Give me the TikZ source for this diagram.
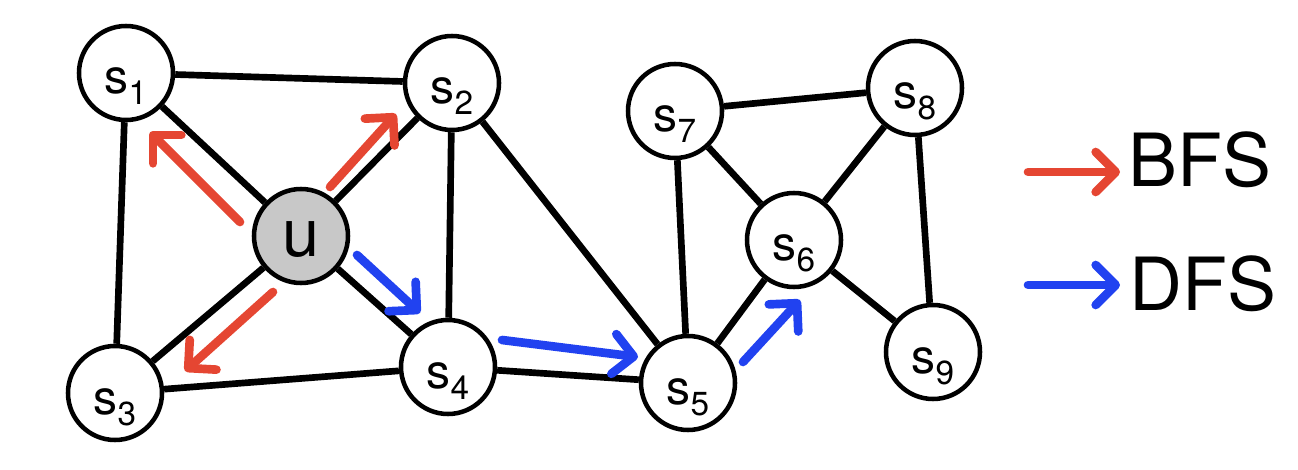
\documentclass[tikz,border=0pt]{standalone}
\usepackage{fontspec}
\setmainfont{TeX Gyre Heros}
\usetikzlibrary{arrows.meta}
\definecolor{bfsred}{RGB}{229,70,50}
\definecolor{dfsblue}{RGB}{33,66,240}
\definecolor{ugray}{RGB}{200,200,200}
\newcommand{\sname}[1]{\raisebox{-15.75pt}[0pt][0pt]{\fontsize{36}{36}\selectfont s\raisebox{-8.25pt}{\fontsize{25}{25}\selectfont #1}}}

\begin{document}
\begin{tikzpicture}[x=0.75pt,y=0.75pt,yscale=-1,xscale=1,
  vtx/.style={circle,draw,line width=3.4pt,fill=white,minimum size=70.5pt,inner sep=0pt},
  link/.style={line width=5pt},
  walk/.style={line width=6.5pt,line cap=round,-{Straight Barb[length=15pt,width=30pt,line join=round,line cap=round]}}]
\useasboundingbox (0,0) rectangle (1298,470);

% Vertices
\node (u) [vtx,fill=ugray] at (301,236) {\raisebox{-15.75pt}[0pt][0pt]{\fontsize{50}{50}\selectfont u}};
\node (s1) [vtx] at (126,73) {\sname{1}};
\node (s2) [vtx] at (452,83) {\sname{2}};
\node (s3) [vtx] at (115,393) {\sname{3}};
\node (s4) [vtx] at (448,367) {\sname{4}};
\node (s5) [vtx] at (688,383) {\sname{5}};
\node (s6) [vtx] at (794,240) {\sname{6}};
\node (s7) [vtx] at (675,111) {\sname{7}};
\node (s8) [vtx] at (915,88) {\sname{8}};
\node (s9) [vtx] at (933,352) {\sname{9}};

% Edges
\draw [link] (s1) -- (s2);
\draw [link] (s1) -- (u);
\draw [link] (s1) -- (s3);
\draw [link] (s2) -- (u);
\draw [link] (s2) -- (s4);
\draw [link] (s2) -- (s5);
\draw [link] (u) -- (s3);
\draw [link] (u) -- (s4);
\draw [link] (s3) -- (s4);
\draw [link] (s4) -- (s5);
\draw [link] (s5) -- (s7);
\draw [link] (s5) -- (s6);
\draw [link] (s7) -- (s6);
\draw [link] (s7) -- (s8);
\draw [link] (s8) -- (s6);
\draw [link] (s8) -- (s9);
\draw [link] (s6) -- (s9);

% BFS arrows
\coordinate (b1a) at (240,222); \coordinate (b1b) at (150,132);
\coordinate (b2a) at (330,187); \coordinate (b2b) at (396,114);
\coordinate (b3a) at (273,292); \coordinate (b3b) at (185,371);
\draw [walk,bfsred] (b1a) -- (b1b);
\draw [walk,bfsred] (b2a) -- (b2b);
\draw [walk,bfsred] (b3a) -- (b3b);

% DFS arrows
\coordinate (d1a) at (357,255); \coordinate (d1b) at (420,313);
\coordinate (d2a) at (502,340); \coordinate (d2b) at (638,357);
\coordinate (d3a) at (743,362); \coordinate (d3b) at (800,300);
\draw [walk,dfsblue] (d1a) -- (d1b);
\draw [walk,dfsblue] (d2a) -- (d2b);
\draw [walk,dfsblue] (d3a) -- (d3b);

% Legend
\coordinate (lb1) at (1028,172); \coordinate (lb2) at (1120,172);
\coordinate (ld1) at (1028,285); \coordinate (ld2) at (1120,285);
\draw [walk,bfsred] (lb1) -- (lb2);
\draw [walk,dfsblue] (ld1) -- (ld2);
\node (bfs) [anchor=base west,inner sep=0pt,font=\fontsize{55}{55}\selectfont] at (1128,187) {BFS};
\node (dfs) [anchor=base west,inner sep=0pt,font=\fontsize{55}{55}\selectfont] at (1129,310) {DFS};

\end{tikzpicture}
\end{document}
